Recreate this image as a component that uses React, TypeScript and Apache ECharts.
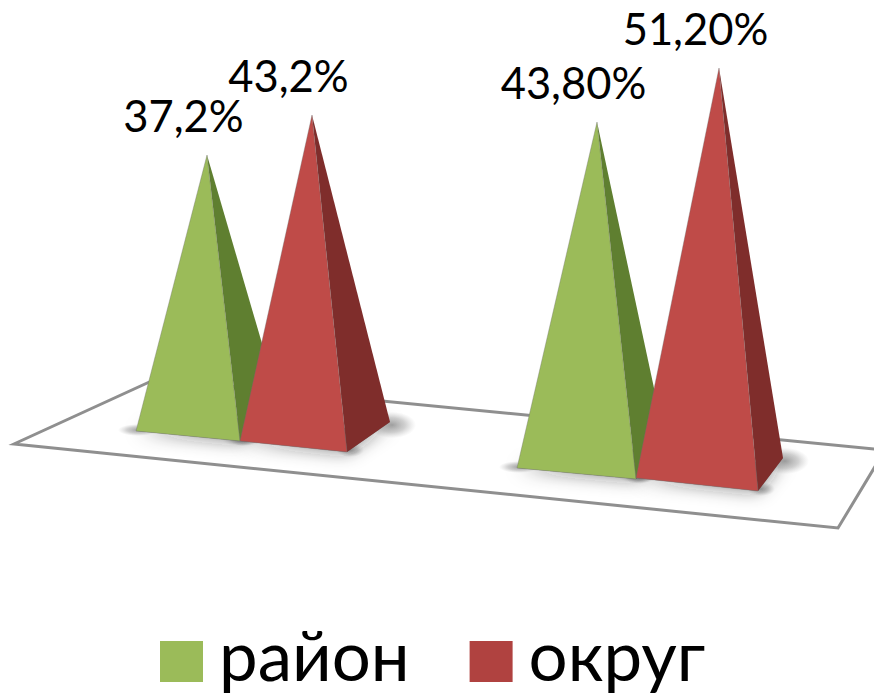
import React, { useEffect, useRef } from "react";
import * as echarts from "echarts";

const categories = ["Показатель 1", "Показатель 2"];
const seriesNames = ["район", "округ"];
const districtValues = [37.2, 43.8];
const regionValues = [43.2, 51.2];
const districtLabels = ["37,2%", "43,80%"];
const regionLabels = ["43,2%", "51,20%"];

// Perspective of the 3D scene, relative to each category's axis point.
const Y0 = 500;
const PX_PER_UNIT = 8;
type Geo = { left: number[]; front: number[]; back: number[]; apexX: number; refY: number; k: number };
const geoDistrict: Geo[] = [
  { left: [-104, -69], front: [0, -59], back: [42, -88], apexX: -33, refY: -64, k: 281 / (37.2 * PX_PER_UNIT) },
  { left: [-119, -32], front: [0, -21], back: [30, -56], apexX: -39, refY: -27, k: 351 / (43.8 * PX_PER_UNIT) },
];
const geoRegion: Geo[] = [
  { left: [0, -59], front: [107, -48], back: [150, -78], apexX: 72, refY: -54, k: 331 / (43.2 * PX_PER_UNIT) },
  { left: [0, -22], front: [122, -9], back: [147, -42], apexX: 83, refY: -15, k: 417 / (51.2 * PX_PER_UNIT) },
];
const floorPoints = [[14, 444], [838, 528], [885, 450], [156, 379]];

function softSpot(x: number, y: number, r: number, sy: number) {
  return {
    type: "circle",
    z2: 1,
    x,
    y,
    scaleY: sy,
    shape: { cx: 0, cy: 0, r },
    style: {
      fill: new echarts.graphic.RadialGradient(0.5, 0.5, 0.5, [
        { offset: 0, color: "rgba(70,70,70,0.5)" },
        { offset: 0.55, color: "rgba(100,100,100,0.3)" },
        { offset: 1, color: "rgba(140,140,140,0)" },
      ]),
    },
  };
}

function pyramidRenderer(geos: Geo[], labels: string[], face: string, side: string, z: number) {
  return (params: any, api: any) => {
    const idx = api.value(0);
    const value = api.value(1);
    const g = geos[params.dataIndex];
    const [cx, cy] = api.coord([idx, 0]);
    const h = api.size([0, value])[1] * g.k;
    const pt = (p: number[]) => [cx + p[0], cy + p[1]];
    const apex = [cx + g.apexX, cy + g.refY - h];
    const l = pt(g.left);
    const f = pt(g.front);
    const b = pt(g.back);
    return {
      type: "group",
      children: [
        {
          type: "polygon",
          z2: 1,
          shape: { points: [l, f, b] },
          style: { fill: "rgba(60,60,60,0.6)", shadowBlur: 18, shadowColor: "rgba(30,30,30,0.9)" },
        },
        softSpot(l[0] + 2, l[1] - 1, 20, 0.3),
        softSpot(b[0] + 2, b[1] + 3, 24, 0.55),
        softSpot(f[0] + 3, f[1] - 2, 14, 0.5),
        { type: "polygon", z2: z, shape: { points: [apex, f, b] }, style: { fill: side } },
        {
          type: "polygon",
          z2: z + 1,
          shape: { points: [apex, l, f] },
          style: { fill: face, stroke: "rgba(110,110,110,0.5)", lineWidth: 0.7 },
        },
        {
          type: "text",
          z2: 30,
          style: {
            text: labels[params.dataIndex],
            x: apex[0] - 23.5,
            y: apex[1] - 18,
            textAlign: "center",
            textVerticalAlign: "bottom",
            fill: "#000",
            font: '43.5px Lato',
          },
        },
      ],
    };
  };
}

export default function App() {
  const ref = useRef<HTMLDivElement>(null);
  useEffect(() => {
    const chart = echarts.init(ref.current!, null, { renderer: "svg" });
    chart.setOption({
      animation: false,
      backgroundColor: "#fff",
      grid: { left: 42, width: 792, top: Y0 - 60 * PX_PER_UNIT, height: 60 * PX_PER_UNIT },
      xAxis: { type: "category", data: categories, show: false },
      yAxis: { type: "value", min: 0, max: 60, show: false },
      graphic: [
        {
          type: "polygon",
          z: 0,
          shape: { points: floorPoints },
          style: { fill: "#fff", stroke: "#8f8f8f", lineWidth: 3 },
        },
      ],
      legend: {
        left: 155,
        top: 615,
        itemWidth: 43,
        itemHeight: 41,
        itemGap: 60,
        icon: "rect",
        data: [
          { name: seriesNames[0], itemStyle: { color: "#9BBB59" } },
          { name: seriesNames[1], itemStyle: { color: "#B04240" } },
        ],
        formatter: (name: string) => `{t|${name}}`,
        textStyle: {
          rich: {
            t: { fontFamily: "Lato", fontSize: 69, color: "#000", padding: [0, 0, 14, 11] },
          },
        },
      },
      series: [
        {
          type: "custom",
          name: seriesNames[0],
          clip: false,
          itemStyle: { color: "#9BBB59" },
          data: districtValues.map((v, i) => [i, v]),
          renderItem: pyramidRenderer(geoDistrict, districtLabels, "#9BBB59", "#5F7F30", 10),
        },
        {
          type: "custom",
          name: seriesNames[1],
          clip: false,
          itemStyle: { color: "#C0504D" },
          data: regionValues.map((v, i) => [i, v]),
          renderItem: pyramidRenderer(geoRegion, regionLabels, "#BF4B48", "#7F2D2B", 20),
        },
      ],
    });
    return () => chart.dispose();
  }, []);
  return <div ref={ref} style={{ position: "fixed", left: 0, top: 0, width: 874, height: 696 }} />;
}
